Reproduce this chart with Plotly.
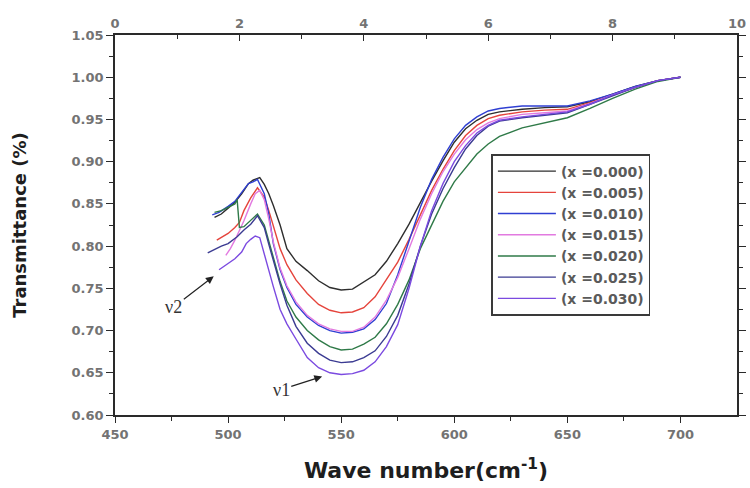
import plotly.graph_objects as go

# FTIR transmittance spectra, one curve per substitution level x
names = ["(x =0.000)", "(x =0.005)", "(x =0.010)", "(x =0.015)",
         "(x =0.020)", "(x =0.025)", "(x =0.030)"]
colors = ["#2e2e2e", "#e5443c", "#2f3fd2", "#e27ae0",
          "#2f7a48", "#3b3b92", "#7b4ae0"]

# noisy ν2 shoulder (below ~515 cm-1), own sampling per curve
head_x_000 = [494, 497, 500, 503, 506, 509, 511, 514]
head_y_000 = [0.834, 0.838, 0.845, 0.852, 0.862, 0.874, 0.878, 0.881]
head_x_005 = [495, 498, 500, 503, 505, 507, 510, 513]
head_y_005 = [0.807, 0.812, 0.815, 0.822, 0.828, 0.842, 0.857, 0.869]
head_x_010 = [493, 496, 500, 503, 505, 509, 511, 513]
head_y_010 = [0.837, 0.840, 0.847, 0.853, 0.860, 0.874, 0.876, 0.879]
head_x_015 = [499, 501, 503, 505, 507, 510, 512, 514]
head_y_015 = [0.789, 0.797, 0.807, 0.818, 0.830, 0.850, 0.862, 0.866]
head_x_020 = [494, 497, 500, 503, 504, 505, 507, 510, 513]
head_y_020 = [0.840, 0.842, 0.846, 0.850, 0.855, 0.822, 0.823, 0.830, 0.838]
head_x_025 = [491, 494, 497, 500, 504, 507, 510, 513]
head_y_025 = [0.792, 0.796, 0.800, 0.803, 0.811, 0.819, 0.826, 0.836]
head_x_030 = [496, 498, 500, 503, 506, 508, 510, 512, 514]
head_y_030 = [0.772, 0.776, 0.780, 0.785, 0.793, 0.803, 0.808, 0.812, 0.810]

# main ν1 band and plateau, common wavenumber grid
wn_main = [516, 518, 520, 523, 526, 530, 535, 540, 545, 550, 555, 560,
           565, 570, 575, 580, 585, 590, 595, 600, 605, 610, 615, 620,
           630, 640, 650, 660, 670, 680, 690, 700]
t_000 = [0.873, 0.862, 0.848, 0.825, 0.797, 0.782, 0.771, 0.759, 0.751, 0.748, 0.749, 0.757,
         0.766, 0.782, 0.803, 0.826, 0.852, 0.877, 0.901, 0.923, 0.939, 0.949, 0.956, 0.959,
         0.962, 0.964, 0.965, 0.971, 0.980, 0.989, 0.996, 1.000]
t_005 = [0.858, 0.842, 0.823, 0.797, 0.778, 0.760, 0.744, 0.731, 0.724, 0.721, 0.722, 0.727,
         0.740, 0.760, 0.781, 0.808, 0.838, 0.866, 0.891, 0.913, 0.931, 0.943, 0.951, 0.955,
         0.959, 0.961, 0.962, 0.970, 0.979, 0.988, 0.996, 1.000]
t_010 = [0.862, 0.838, 0.803, 0.772, 0.751, 0.731, 0.716, 0.706, 0.700, 0.697, 0.698, 0.702,
         0.713, 0.732, 0.766, 0.806, 0.846, 0.879, 0.905, 0.927, 0.943, 0.953, 0.960, 0.963,
         0.966, 0.966, 0.966, 0.972, 0.980, 0.989, 0.996, 1.000]
t_015 = [0.855, 0.832, 0.805, 0.774, 0.753, 0.734, 0.718, 0.708, 0.702, 0.699, 0.699, 0.704,
         0.716, 0.736, 0.763, 0.797, 0.832, 0.862, 0.888, 0.909, 0.926, 0.938, 0.946, 0.951,
         0.956, 0.958, 0.960, 0.969, 0.979, 0.988, 0.996, 1.000]
t_020 = [0.825, 0.805, 0.788, 0.758, 0.735, 0.716, 0.700, 0.689, 0.681, 0.677, 0.678, 0.684,
         0.692, 0.708, 0.731, 0.760, 0.797, 0.826, 0.853, 0.876, 0.893, 0.909, 0.921, 0.930,
         0.940, 0.946, 0.952, 0.963, 0.975, 0.986, 0.995, 1.000]
t_025 = [0.822, 0.802, 0.783, 0.755, 0.730, 0.705, 0.685, 0.673, 0.665, 0.662, 0.663, 0.668,
         0.676, 0.693, 0.718, 0.755, 0.800, 0.838, 0.868, 0.893, 0.915, 0.931, 0.942, 0.948,
         0.952, 0.955, 0.958, 0.968, 0.978, 0.988, 0.996, 1.000]
t_030 = [0.790, 0.772, 0.752, 0.725, 0.708, 0.690, 0.668, 0.656, 0.650, 0.648, 0.649, 0.653,
         0.663, 0.681, 0.707, 0.750, 0.800, 0.842, 0.874, 0.900, 0.919, 0.934, 0.943, 0.949,
         0.953, 0.956, 0.959, 0.968, 0.979, 0.988, 0.996, 1.000]

heads = [(head_x_000, head_y_000), (head_x_005, head_y_005), (head_x_010, head_y_010),
         (head_x_015, head_y_015), (head_x_020, head_y_020), (head_x_025, head_y_025),
         (head_x_030, head_y_030)]
tails = [t_000, t_005, t_010, t_015, t_020, t_025, t_030]

tick_font = dict(family="DejaVu Sans", size=13, color="#737373", weight="bold")
axis_col = "#2a2a2a"

fig = go.Figure()
for name, col, (hx, hy), ty in zip(names, colors, heads, tails):
    fig.add_trace(go.Scatter(
        x=hx + wn_main, y=hy + ty, mode="lines", name=name,
        line=dict(color=col, width=1.4), hoverinfo="skip"))

# secondary top scale (0-10)
fig.add_trace(go.Scatter(x=[0, 10], y=[None, None], xaxis="x2", yaxis="y",
                         mode="lines", showlegend=False, hoverinfo="skip"))

fig.update_layout(
    width=750, height=488,
    margin=dict(l=115, r=4, t=35, b=73),
    paper_bgcolor="white", plot_bgcolor="white",
    showlegend=True,
    legend=dict(x=0.605, y=0.687, xanchor="left", yanchor="top",
                bgcolor="white", bordercolor="#3a3a3a", borderwidth=1.6,
                font=dict(family="DejaVu Sans", size=14, color="#5a5a5a", weight="bold"),
                itemwidth=58),
    xaxis=dict(range=[450, 725], tickvals=[450, 500, 550, 600, 650, 700],
               ticks="outside", ticklen=6, tickwidth=1.3, tickcolor=axis_col,
               minor=dict(tickvals=[475, 525, 575, 625, 675], ticks="outside",
                          ticklen=4, tickwidth=1.3, tickcolor=axis_col),
               showline=True, linecolor=axis_col, linewidth=1.8,
               showgrid=False, zeroline=False, tickfont=tick_font,
               title=dict(text="Wave number(cm<sup>-1</sup>)", standoff=22,
                          font=dict(family="DejaVu Sans", size=22, color="#1e1e1e",
                                    weight="bold"))),
    xaxis2=dict(range=[0, 10], overlaying="x", side="top", anchor="y",
                tickvals=[0, 2, 4, 6, 8, 10], ticks="inside", ticklen=6,
                tickwidth=1.3, tickcolor=axis_col,
                minor=dict(tickvals=[1, 3, 5, 7, 9], ticks="inside", ticklen=4,
                           tickwidth=1.3, tickcolor=axis_col),
                showline=True, linecolor=axis_col, linewidth=1.8,
                showgrid=False, zeroline=False, tickfont=tick_font),
    yaxis=dict(range=[0.60, 1.05], dtick=0.05, tickformat=".2f",
               ticks="outside", ticklen=7, tickwidth=1.3, tickcolor=axis_col,
               minor=dict(dtick=0.025, ticks="outside", ticklen=4,
                          tickwidth=1.3, tickcolor=axis_col),
               showline=True, linecolor=axis_col, linewidth=1.8, mirror="ticks",
               showgrid=False, zeroline=False, tickfont=tick_font,
               title=dict(text="Transmittance (%)", standoff=40,
                          font=dict(family="DejaVu Sans", size=18, color="#1e1e1e",
                                    weight="bold"))),
)

# band markers: label at the arrow tail, arrow pointing at the band
label_font = dict(family="Liberation Serif", size=18, color="#333333")
fig.add_annotation(x=494, y=0.765, ax=476, ay=0.728, xref="x", yref="y",
                   axref="x", ayref="y", text="ν2", font=label_font,
                   showarrow=True, arrowhead=2, arrowsize=1.3, arrowwidth=1.2,
                   arrowcolor="#222222", standoff=1)
fig.add_annotation(x=542, y=0.646, ax=523.5, ay=0.630, xref="x", yref="y",
                   axref="x", ayref="y", text="ν1", font=label_font,
                   showarrow=True, arrowhead=2, arrowsize=1.3, arrowwidth=1.2,
                   arrowcolor="#222222", standoff=1)

fig.write_html("out.html")
